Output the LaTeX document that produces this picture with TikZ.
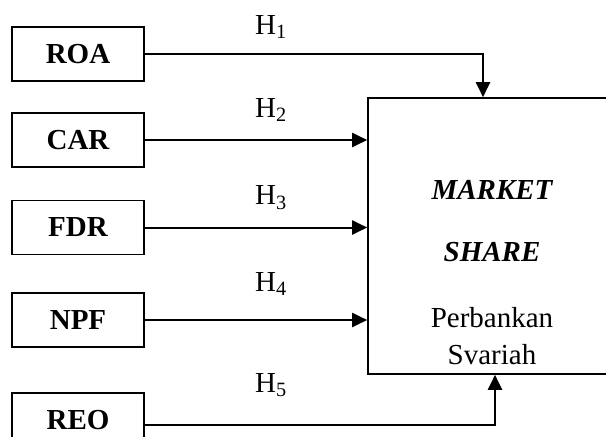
\documentclass[tikz,border=0pt]{standalone}
\usepackage{fontspec}
\setmainfont{Liberation Serif}
\usetikzlibrary{arrows.meta}
\tikzset{
  varbox/.style={draw, line width=1.6pt, minimum width=132pt, minimum height=54pt, font=\fontsize{29}{34}\selectfont\bfseries},
  link/.style={line width=2pt, -{Triangle[length=15pt,width=14pt]}},
  hyp/.style={font=\fontsize{29}{34}\selectfont}
}
\begin{document}
\begin{tikzpicture}[x=1pt, y=-1pt]
    \useasboundingbox (0,0) rectangle (606,437);
    \clip (0,0) rectangle (606,437);

    % variables
    \node[varbox] (roa) at (78,54) {ROA};
    \node[varbox] (car) at (78,140) {CAR};
    \node[varbox] (fdr) at (78,227.5) {FDR};
    \node[varbox] (npf) at (78,320) {NPF};
    \node[varbox] (reo) at (78,420) {REO};

    % dependent variable
    \node[draw, line width=1.6pt, minimum width=248pt, minimum height=276pt] (ms) at (492,236) {};
    \node[hyp, font=\fontsize{29}{34}\selectfont\bfseries\itshape] (mkt) at (492,190) {MARKET};
    \node[hyp, font=\fontsize{29}{34}\selectfont\bfseries\itshape] (shr) at (492,252) {SHARE};
    \node[hyp] (pb) at (492,318) {Perbankan};
    \node[hyp] (sy) at (492,355) {Svariah};

    % arrows
    \draw[link] (roa.east) -| ([xshift=-9pt]ms.north);
    \draw[link] (car.east) -- (car.east -| ms.west);
    \draw[link] (fdr.east) -- (fdr.east -| ms.west);
    \draw[link] (npf.east) -- (npf.east -| ms.west);
    \draw[link] ([yshift=-5pt]reo.east) -| ([xshift=3pt]ms.south);

    % hypotheses
    \node[hyp] (h1) at (271,27) {H\textsubscript{1}};
    \node[hyp] (h2) at (271,110) {H\textsubscript{2}};
    \node[hyp] (h3) at (271,198) {H\textsubscript{3}};
    \node[hyp] (h4) at (271,284) {H\textsubscript{4}};
    \node[hyp] (h5) at (271,385) {H\textsubscript{5}};
\end{tikzpicture}
\end{document}
